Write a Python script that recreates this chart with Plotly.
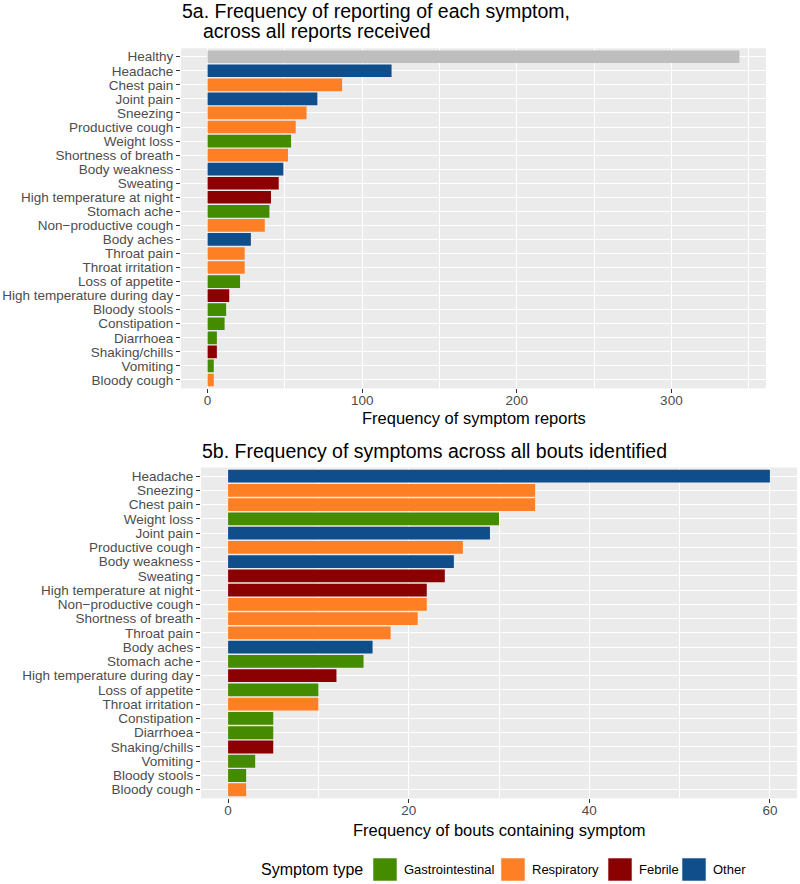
import plotly.graph_objects as go

# ---------------- data ----------------
report_symptoms = ["Healthy", "Headache", "Chest pain", "Joint pain", "Sneezing",
                   "Productive cough", "Weight loss", "Shortness of breath",
                   "Body weakness", "Sweating", "High temperature at night",
                   "Stomach ache", "Non\u2212productive cough", "Body aches",
                   "Throat pain", "Throat irritation", "Loss of appetite",
                   "High temperature during day", "Bloody stools", "Constipation",
                   "Diarrhoea", "Shaking/chills", "Vomiting", "Bloody cough"]
report_counts = [344, 119, 87, 71, 64, 57, 54, 52, 49, 46, 41, 40, 37, 28,
                 24, 24, 21, 14, 12, 11, 6, 6, 4, 4]
report_types = ["Healthy", "Other", "Respiratory", "Other", "Respiratory",
                "Respiratory", "Gastrointestinal", "Respiratory", "Other",
                "Febrile", "Febrile", "Gastrointestinal", "Respiratory", "Other",
                "Respiratory", "Respiratory", "Gastrointestinal", "Febrile",
                "Gastrointestinal", "Gastrointestinal", "Gastrointestinal",
                "Febrile", "Gastrointestinal", "Respiratory"]

bout_symptoms = ["Headache", "Sneezing", "Chest pain", "Weight loss", "Joint pain",
                 "Productive cough", "Body weakness", "Sweating",
                 "High temperature at night", "Non\u2212productive cough",
                 "Shortness of breath", "Throat pain", "Body aches", "Stomach ache",
                 "High temperature during day", "Loss of appetite",
                 "Throat irritation", "Constipation", "Diarrhoea", "Shaking/chills",
                 "Vomiting", "Bloody stools", "Bloody cough"]
bout_counts = [60, 34, 34, 30, 29, 26, 25, 24, 22, 22, 21, 18, 16, 15, 12, 10, 10,
               5, 5, 5, 3, 2, 2]
bout_types = ["Other", "Respiratory", "Respiratory", "Gastrointestinal", "Other",
              "Respiratory", "Other", "Febrile", "Febrile", "Respiratory",
              "Respiratory", "Respiratory", "Other", "Gastrointestinal", "Febrile",
              "Gastrointestinal", "Respiratory", "Gastrointestinal",
              "Gastrointestinal", "Febrile", "Gastrointestinal", "Gastrointestinal",
              "Respiratory"]

legend_types = ["Gastrointestinal", "Respiratory", "Febrile", "Other"]
top_ticks = [0, 100, 200, 300]
bottom_ticks = [0, 20, 40, 60]

# ---------------- styles ----------------
type_colors = {"Gastrointestinal": "#458B00", "Respiratory": "#FF7F24",
               "Febrile": "#8B0000", "Other": "#104E8B", "Healthy": "#BEBEBE"}
FONT = "Liberation Sans, Arial, Helvetica, sans-serif"
W, H = 800, 884


def px_x(p):
    return p / W


def px_y(p):
    return 1 - p / H


fig = go.Figure()
fig.add_trace(go.Bar(
    x=report_counts, y=report_symptoms, orientation="h",
    marker=dict(color=[type_colors[t] for t in report_types], line=dict(width=0)),
    xaxis="x", yaxis="y", showlegend=False, hoverinfo="x+y"))
fig.add_trace(go.Bar(
    x=bout_counts, y=bout_symptoms, orientation="h",
    marker=dict(color=[type_colors[t] for t in bout_types], line=dict(width=0)),
    xaxis="x2", yaxis="y2", showlegend=False, hoverinfo="x+y"))

tick_font = dict(family=FONT, size=13.5, color="#4D4D4D")


def xaxis_cfg(domain, vmax, ticks, minor, anchor):
    return dict(domain=domain, range=[-0.05 * vmax, 1.05 * vmax],
                tickmode="array", tickvals=ticks, ticktext=[str(t) for t in ticks],
                showgrid=True, gridcolor="white", gridwidth=1.1,
                minor=dict(dtick=minor, tick0=0, showgrid=True, gridcolor="white",
                           gridwidth=0.55, ticks=""),
                zeroline=False, ticks="outside", ticklen=4, tickwidth=1,
                tickcolor="#333333", tickfont=tick_font, automargin=False,
                ticklabelstandoff=-5, showline=False, fixedrange=True, anchor=anchor)


def yaxis_cfg(domain, cats, anchor):
    n = len(cats)
    return dict(domain=domain, type="category", categoryorder="array",
                categoryarray=cats, range=[n - 1 + 0.6, -0.6],
                tickmode="array", tickvals=cats, ticktext=cats,
                showgrid=True, gridcolor="white", gridwidth=1.1,
                zeroline=False, ticks="outside", ticklen=4, tickwidth=1,
                tickcolor="#333333", tickfont=tick_font, automargin=False,
                anchor=anchor, fixedrange=True)


fig.update_layout(
    width=W, height=H,
    margin=dict(l=0, r=0, t=0, b=0),
    paper_bgcolor="white", plot_bgcolor="#EBEBEB",
    bargap=0.1, showlegend=False,
    font=dict(family=FONT),
    xaxis=xaxis_cfg([px_x(181), px_x(766)], max(report_counts), top_ticks, 50, "y"),
    yaxis=yaxis_cfg([px_y(388.4), px_y(48.3)], report_symptoms, "x"),
    xaxis2=xaxis_cfg([px_x(201), px_x(797)], max(bout_counts), bottom_ticks, 10, "y2"),
    yaxis2=yaxis_cfg([px_y(798.3), px_y(467.5)], bout_symptoms, "x2"),
)

annotations = []
title_font = dict(family=FONT, size=19.5, color="black")
annotations.append(dict(text="5a. Frequency of reporting of each symptom,",
                        x=px_x(180), y=px_y(11), xref="paper", yref="paper",
                        xanchor="left", yanchor="middle", showarrow=False, font=title_font))
annotations.append(dict(text="across all reports received",
                        x=px_x(201), y=px_y(31), xref="paper", yref="paper",
                        xanchor="left", yanchor="middle", showarrow=False, font=title_font))
annotations.append(dict(text="5b. Frequency of symptoms across all bouts identified",
                        x=px_x(200), y=px_y(451), xref="paper", yref="paper",
                        xanchor="left", yanchor="middle", showarrow=False, font=title_font))

axis_title_font = dict(family=FONT, size=16.5, color="black")
annotations.append(dict(text="Frequency of symptom reports",
                        x=px_x(473.5), y=px_y(418), xref="paper", yref="paper",
                        xanchor="center", yanchor="middle", showarrow=False,
                        font=axis_title_font))
annotations.append(dict(text="Frequency of bouts containing symptom",
                        x=px_x(499), y=px_y(830), xref="paper", yref="paper",
                        xanchor="center", yanchor="middle", showarrow=False,
                        font=axis_title_font))

# legend (drawn manually to match ggplot-style keys)
legend_y = 869.5
annotations.append(dict(text="Symptom type", x=px_x(259), y=px_y(legend_y),
                        xref="paper", yref="paper", xanchor="left", yanchor="middle",
                        showarrow=False, font=dict(family=FONT, size=16, color="black")))
key_x = [373, 501, 608, 682]
shapes = []
for t, kx in zip(legend_types, key_x):
    shapes.append(dict(type="rect", xref="paper", yref="paper",
                       x0=px_x(kx), x1=px_x(kx + 24),
                       y0=px_y(legend_y + 11.5), y1=px_y(legend_y - 11.5),
                       fillcolor=type_colors[t], line=dict(width=0.6, color="#F2F2F2")))
    annotations.append(dict(text=t, x=px_x(kx + 29), y=px_y(legend_y),
                            xref="paper", yref="paper", xanchor="left", yanchor="middle",
                            showarrow=False,
                            font=dict(family=FONT, size=13, color="black")))

fig.update_layout(annotations=annotations, shapes=shapes)

fig.write_html("out.html",
               config={"displayModeBar": False},
               post_script="document.body.style.margin='0px';"
                           "document.body.style.overflow='hidden';")
